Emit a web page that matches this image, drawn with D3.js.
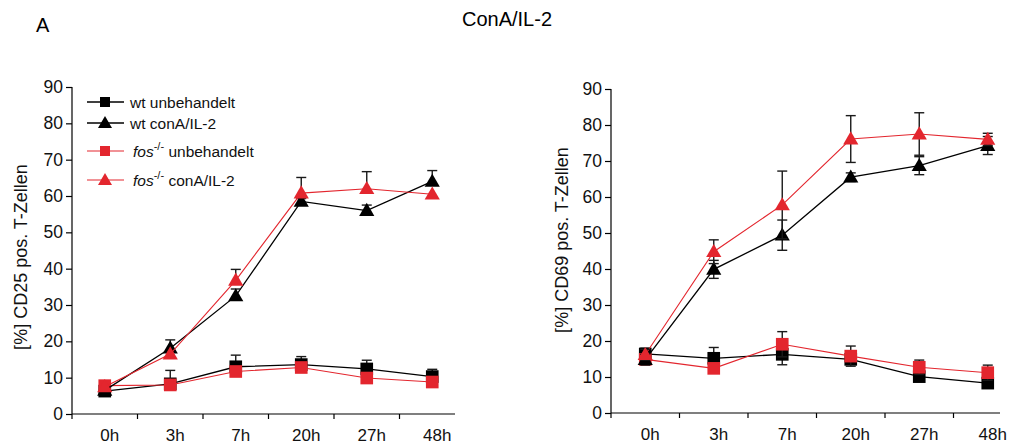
<!DOCTYPE html>
<html>
<head>
<meta charset="utf-8">
<script src="https://cdn.jsdelivr.net/npm/d3@7"></script>
<style>
  html, body { margin: 0; padding: 0; background: #fff; }
  svg { display: block; font-family: "Liberation Sans", Arial, sans-serif; }
</style>
</head>
<body>
<svg id="chart" width="1010" height="446"></svg>
<script>
// ---------- data ----------
const categories = ["0h", "3h", "7h", "20h", "27h", "48h"];
const yTickValues = [0, 10, 20, 30, 40, 50, 60, 70, 80, 90];
const seriesNames = ["wt unbehandelt", "wt conA/IL-2", "fos unbehandelt", "fos conA/IL-2"];

// CD25 (left panel)
const cd25WtUnb      = [6.3, 8.3, 13.0, 13.6, 12.4, 10.3];
const cd25WtUnbErr   = [0, 0, 3.2, 2.2, 2.4, 2.0];
const cd25FosUnb     = [7.8, 8.0, 11.7, 12.8, 9.9, 8.8];
const cd25FosUnbErr  = [0, 4.0, 0, 0, 0, 0];
const cd25WtCon      = [6.5, 18.1, 32.5, 58.5, 56.0, 64.0];
const cd25WtConErr   = [0, 2.3, 1.9, 0.8, 1.5, 3.0];
const cd25FosCon     = [7.5, 16.5, 36.8, 60.8, 62.0, 60.5];
const cd25FosConErr  = [0, 0, 3.0, 4.3, 4.7, 0];

// CD69 (right panel)
const cd69WtUnb      = [16.4, 15.2, 16.3, 14.9, 10.1, 8.3];
const cd69WtUnbErr   = [1.6, 3.0, 2.9, 0, 0, 0];
const cd69FosUnb     = [14.9, 12.4, 19.1, 15.8, 12.7, 11.2];
const cd69FosUnbErr  = [0, 0, 3.5, 2.8, 2.0, 2.1];
const cd69WtCon      = [14.8, 39.9, 49.4, 65.5, 68.7, 74.3];
const cd69WtConErr   = [1.5, 2.5, 4.2, 1.2, 2.5, 2.5];
const cd69FosCon     = [16.2, 44.8, 57.8, 76.1, 77.5, 76.0];
const cd69FosConErr  = [1.5, 3.3, 9.4, 6.5, 5.9, 1.7];

// ---------- styles ----------
const RED = "#e3262e";
const BLACK = "#000000";
const FONT = "\"Liberation Sans\", Arial, sans-serif";

const svg = d3.select("#chart");

// Panel letter and title
svg.append("text").attr("x", 36).attr("y", 32)
  .attr("font-size", 20).attr("fill", "#000").text("A");
svg.append("text").attr("x", 507).attr("y", 26).attr("text-anchor", "middle")
  .attr("font-size", 20).attr("fill", "#000").text("ConA/IL-2");

const squareSym = d3.symbol().type(d3.symbolSquare).size(160)();
const triSym = d3.symbol().type(d3.symbolTriangle).size(100)();

function drawPanel(cfg) {
  const g = svg.append("g");
  const x = d3.scaleBand().domain(categories).range([cfg.xLeft, cfg.xRight]);
  const y = d3.scaleLinear().domain([0, 90]).range([cfg.yBottom, cfg.yTop]);
  const cx = c => x(c) + x.bandwidth() / 2;

  // y axis
  const yAxis = d3.axisLeft(y).tickValues(yTickValues).tickSize(6).tickSizeOuter(0).tickPadding(3);
  const ya = g.append("g").attr("transform", `translate(${cfg.xLeft},0)`).call(yAxis);
  ya.select(".domain").attr("stroke", "#000").attr("stroke-width", 1.2)
    .attr("d", `M0,${cfg.yTop}V${cfg.yBottom + 5}`);
  ya.selectAll(".tick line").attr("stroke", "#000").attr("stroke-width", 1.2);
  ya.selectAll(".tick text").attr("font-size", 17.5).attr("font-family", FONT).attr("fill", "#111");

  // x axis line
  g.append("line").attr("x1", cfg.xLeft).attr("x2", cfg.axisEnd)
    .attr("y1", cfg.yBottom).attr("y2", cfg.yBottom)
    .attr("stroke", "#000").attr("stroke-width", 1.2);
  // tick marks at band boundaries
  g.selectAll(".xtick").data(categories.slice(1)).enter().append("line")
    .attr("x1", c => x(c)).attr("x2", c => x(c))
    .attr("y1", cfg.yBottom).attr("y2", cfg.yBottom + 5)
    .attr("stroke", "#000").attr("stroke-width", 1.2);
  // x labels
  const xAxis = d3.axisBottom(x).tickSize(0).tickPadding(15);
  const xa = g.append("g").attr("transform", `translate(5,${cfg.yBottom})`).call(xAxis);
  xa.select(".domain").remove();
  xa.selectAll(".tick text").attr("font-size", 17).attr("font-family", FONT).attr("fill", "#111");

  // y title
  g.append("text")
    .attr("transform", `translate(${cfg.titleX},${cfg.titleY}) rotate(-90)`)
    .attr("text-anchor", "middle").attr("dominant-baseline", "central")
    .attr("font-size", 18).attr("fill", "#111").text(cfg.yTitle);

  // series
  cfg.series.forEach(s => {
    const pts = categories.map((c, i) => ({ c, v: s.values[i], e: s.errors[i] }));
    const line = d3.line().x(d => cx(d.c)).y(d => y(d.v));
    g.append("path").datum(pts).attr("d", line).attr("fill", "none")
      .attr("stroke", s.color).attr("stroke-width", s.color === RED ? 1.1 : 1.3);

    const eb = g.append("g").attr("stroke", "#1a1a1a").attr("stroke-width", 1.4);
    pts.filter(d => d.e > 0).forEach(d => {
      const top = y(d.v + d.e);
      const bot = cfg.bothErr ? y(d.v - d.e) : y(d.v);
      eb.append("line").attr("x1", cx(d.c)).attr("x2", cx(d.c)).attr("y1", top).attr("y2", bot);
      eb.append("line").attr("x1", cx(d.c) - 5).attr("x2", cx(d.c) + 5).attr("y1", top).attr("y2", top);
      if (cfg.bothErr) {
        eb.append("line").attr("x1", cx(d.c) - 5).attr("x2", cx(d.c) + 5).attr("y1", bot).attr("y2", bot);
      }
    });

    g.selectAll(null).data(pts).enter().append("path")
      .attr("d", s.marker === "square" ? squareSym : triSym)
      .attr("transform", d => `translate(${cx(d.c)},${y(d.v) + (s.marker === "square" ? 0 : 1)})`)
      .attr("fill", s.color);
  });
}

drawPanel({
  xLeft: 72, xRight: 465, axisEnd: 455, yTop: 87, yBottom: 414,
  titleX: 21, titleY: 257, yTitle: "[%] CD25 pos. T-Zellen", bothErr: false,
  series: [
    { values: cd25WtUnb, errors: cd25WtUnbErr, color: BLACK, marker: "square" },
    { values: cd25FosUnb, errors: cd25FosUnbErr, color: RED, marker: "square" },
    { values: cd25WtCon, errors: cd25WtConErr, color: BLACK, marker: "triangle" },
    { values: cd25FosCon, errors: cd25FosConErr, color: RED, marker: "triangle" }
  ]
});

drawPanel({
  xLeft: 611, xRight: 1022, axisEnd: 1000, yTop: 89, yBottom: 413,
  titleX: 562, titleY: 240, yTitle: "[%] CD69 pos. T-Zellen", bothErr: true,
  series: [
    { values: cd69WtUnb, errors: cd69WtUnbErr, color: BLACK, marker: "square" },
    { values: cd69FosUnb, errors: cd69FosUnbErr, color: RED, marker: "square" },
    { values: cd69WtCon, errors: cd69WtConErr, color: BLACK, marker: "triangle" },
    { values: cd69FosCon, errors: cd69FosConErr, color: RED, marker: "triangle" }
  ]
});

// ---------- legend ----------
const legendItems = [
  { name: seriesNames[0], color: BLACK, marker: "square", y: 102, fos: false },
  { name: seriesNames[1], color: BLACK, marker: "triangle", y: 123, fos: false },
  { name: seriesNames[2], color: RED, marker: "square", y: 151, fos: true },
  { name: seriesNames[3], color: RED, marker: "triangle", y: 180, fos: true }
];
const lg = svg.append("g");
legendItems.forEach(it => {
  lg.append("line").attr("x1", 87).attr("x2", 124).attr("y1", it.y).attr("y2", it.y)
    .attr("stroke", it.color).attr("stroke-width", it.color === RED ? 1.1 : 1.3);
  lg.append("path").attr("d", it.marker === "square" ? d3.symbol().type(d3.symbolSquare).size(100)() : d3.symbol().type(d3.symbolTriangle).size(85)())
    .attr("transform", `translate(105,${it.y + (it.marker === "square" ? 0 : 1)})`).attr("fill", it.color);
  const t = lg.append("text").attr("x", it.fos ? 133 : 130).attr("y", it.y + 5.5)
    .attr("font-size", 15.5).attr("fill", "#111");
  if (it.fos) {
    t.append("tspan").attr("font-style", "italic").text("fos");
    t.append("tspan").attr("font-size", 11).attr("dy", -7).text("-/-");
    t.append("tspan").attr("dy", 7).text(" " + it.name.replace("fos ", ""));
  } else {
    t.text(it.name);
  }
});
</script>
</body>
</html>
